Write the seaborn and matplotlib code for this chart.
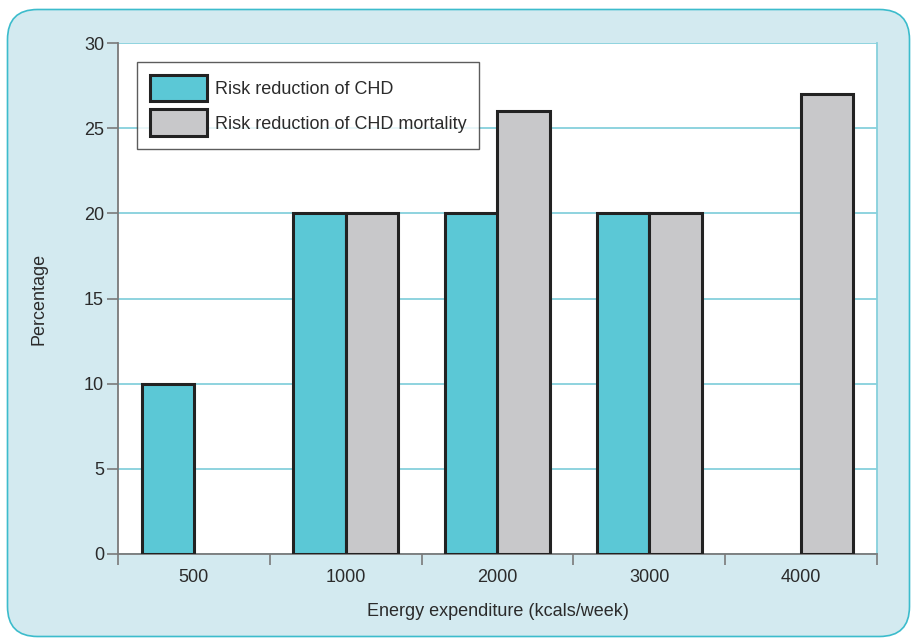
import matplotlib
matplotlib.use("Agg")
import matplotlib.pyplot as plt
from matplotlib.patches import FancyBboxPatch, Patch
import numpy as np
import pandas as pd
import seaborn as sns

# Data
categories = ["500", "1000", "2000", "3000", "4000"]
series = ["Risk reduction of CHD", "Risk reduction of CHD mortality"]
chd = [10, 20, 20, 20, np.nan]
chd_mortality = [np.nan, 20, 26, 20, 27]
y_ticks = [0, 5, 10, 15, 20, 25, 30]

df = pd.DataFrame({
    "Energy": categories * 2,
    "Value": chd + chd_mortality,
    "Series": [series[0]] * len(categories) + [series[1]] * len(categories),
})

sns.set_theme(style="white")
plt.rcParams["font.family"] = ["Liberation Sans", "DejaVu Sans"]
text_color = "#2b2b2b"
colors = ["#5bc8d6", "#c8c8ca"]
edge = "#222222"

fig = plt.figure(figsize=(9.12, 6.4), dpi=100)
fig.patch.set_facecolor("white")

# rounded panel behind the chart
panel = FancyBboxPatch((0.075, 0.035), 9.02, 6.27,
                       boxstyle="round,pad=0,rounding_size=0.3",
                       transform=fig.dpi_scale_trans,
                       facecolor="#d3eaf0", edgecolor="#3cbccc", lw=1.2,
                       zorder=-10)
fig.patches.append(panel)

ax = fig.add_axes([118 / 912, 86 / 640, (877 - 118) / 912, (554 - 43) / 640])
ax.set_zorder(1)
ax.set_facecolor("white")

sns.barplot(data=df, x="Energy", y="Value", hue="Series", order=categories,
            hue_order=series, palette=colors, saturation=1, width=0.69,
            edgecolor=edge, linewidth=2.2, ax=ax, legend=False, zorder=3)

ax.set_xlim(-0.5, len(categories) - 0.5)
ax.set_ylim(0, 30)

# gridlines
ax.set_axisbelow(True)
ax.yaxis.grid(True, color="#86d0dc", lw=1.3)
ax.set_yticks(y_ticks)
ax.set_yticklabels([str(t) for t in y_ticks], fontsize=13, color=text_color)
ax.tick_params(axis="y", which="major", left=True, length=8, width=1.2,
               color="#7a7a7a", pad=2)

# x ticks at group boundaries, labels at group centres
ax.set_xticks(np.arange(-0.5, len(categories)), minor=False)
ax.set_xticklabels([""] * (len(categories) + 1))
ax.set_xticks(np.arange(len(categories)), minor=True)
ax.set_xticklabels(categories, minor=True, fontsize=13, color=text_color)
ax.tick_params(axis="x", which="major", bottom=True, length=8, width=1.2,
               color="#7a7a7a", direction="out")
ax.tick_params(axis="x", which="minor", bottom=True, length=0, pad=11)

for side in ["left", "bottom"]:
    ax.spines[side].set_color("#7a7a7a")
    ax.spines[side].set_linewidth(1.3)
ax.spines["top"].set_visible(False)
ax.spines["right"].set_color("#86d0dc")
ax.spines["right"].set_linewidth(1.3)

ax.set_xlabel("Energy expenditure (kcals/week)", fontsize=13, color=text_color,
              labelpad=12)
ax.set_ylabel("Percentage", fontsize=13, color=text_color, labelpad=26)

handles = [Patch(facecolor=c, edgecolor=edge, lw=2.2) for c in colors]
leg = ax.legend(handles, series, loc="upper left",
                bbox_to_anchor=((137 - 118) / 759, (554 - 62) / 511),
                borderaxespad=0, fontsize=13, frameon=True, fancybox=False,
                handlelength=3.2, handleheight=1.9, handletextpad=0.4,
                labelspacing=0.45, borderpad=0.7)
leg.get_frame().set_edgecolor("#333333")
leg.get_frame().set_linewidth(1.0)
for t in leg.get_texts():
    t.set_color(text_color)

fig.savefig("out.png", dpi=100, facecolor=fig.get_facecolor())
